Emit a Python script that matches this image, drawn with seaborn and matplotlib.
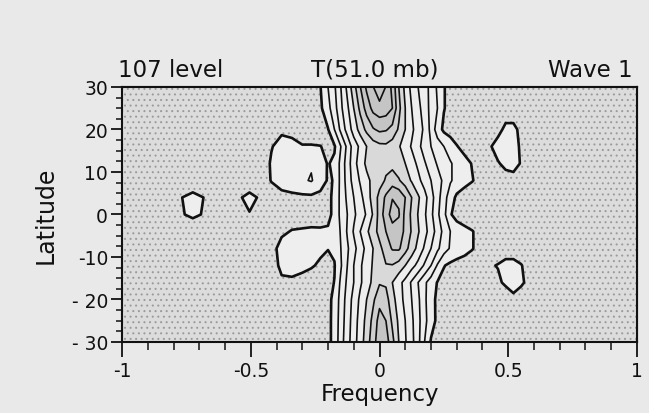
import numpy as np
import matplotlib
matplotlib.use("Agg")
import matplotlib.pyplot as plt
import seaborn as sns

# ---------------- data ----------------
freq = [-1.0, -0.85, -0.78, -0.725, -0.67, -0.6, -0.54, -0.505, -0.47, -0.42,
        -0.38, -0.34, -0.3, -0.265, -0.23, -0.2, -0.175, -0.15, -0.125, -0.1,
        -0.075, -0.05, -0.025, 0.0, 0.025, 0.05, 0.075, 0.1, 0.125, 0.15,
        0.175, 0.2, 0.225, 0.25, 0.275, 0.3, 0.33, 0.36, 0.4, 0.43,
        0.46, 0.49, 0.52, 0.55, 0.6, 0.8, 1.0]

lat = [30, 25, 20, 16, 12, 8, 4, 0, -4, -8, -12, -16, -20, -25, -30]

t_p30 = [0.3]*12 + [0.35, 0.4, 0.95, 2.0, 2.85, 4.0, 5.25, 6.6, 7.95, 9.2,
                    9.95, 10.8, 9.95, 8.7, 7.0, 5.7, 4.7, 4.0, 3.4, 2.7,
                    1.85, 1.05, 0.7, 0.5, 0.4] + [0.3]*10
t_p25 = [0.3]*12 + [0.35, 0.45, 0.8, 1.7, 2.6, 3.8, 4.8, 6.0, 7.25, 8.4,
                    9.3, 9.6, 9.5, 9.0, 7.3, 6.0, 5.0, 4.3, 3.5, 2.7,
                    2.0, 1.05, 0.7, 0.5, 0.4] + [0.3]*10
t_p20 = [0.3]*9 + [0.7, 0.85, 0.8, 0.6, 0.6, 0.6, 0.95, 2.0, 3.25, 4.4,
                   5.4, 6.4, 7.25, 7.9, 8.2, 8.1, 7.7, 6.85, 6.0, 5.2,
                   4.5, 3.8, 2.7, 1.5, 0.8, 0.6, 0.5, 0.4, 0.35, 0.3,
                   0.4, 0.6, 1.3, 1.3, 0.7] + [0.3]*3
t_p16 = [0.3]*9 + [0.95, 1.3, 1.2, 1.05, 1.05, 1.02, 0.85, 0.9, 2.0, 3.25,
                   4.5, 5.2, 6.0, 6.5, 6.75, 6.8, 6.5, 6.1, 5.5, 4.9,
                   4.25, 3.6, 3.0, 2.5, 2.0, 1.5, 1.05, 0.7, 0.5, 0.4,
                   0.9, 1.5, 1.6, 1.5, 0.8, 0.35] + [0.3]*2
t_p12 = [0.3]*9 + [1.1, 1.4, 1.5, 1.6, 1.9, 1.3, 0.95, 1.15, 2.3, 3.5,
                   4.6, 5.5, 6.2, 6.55, 6.7, 6.75, 6.7, 6.4, 6.0, 5.4,
                   4.8, 4.1, 3.5, 2.9, 2.5, 2.1, 1.7, 1.3, 0.95, 0.6,
                   0.5, 0.9, 1.3, 1.5, 0.9, 0.35] + [0.3]*2
t_p08 = [0.3, 0.3, 0.3, 0.3, 0.3, 0.3, 0.3, 0.4, 0.3] + \
        [1.05, 1.4, 1.5, 1.85, 2.08, 1.5, 0.9, 1.05, 2.3, 3.4,
         4.4, 5.1, 5.75, 6.25, 6.65, 7.1, 7.5, 7.1, 6.5, 5.9,
         5.25, 4.6, 4.0, 3.4, 2.8, 2.1, 1.7, 1.35, 1.05, 0.6,
         0.4, 0.45, 0.5, 0.5, 0.4] + [0.3]*3
t_p04 = [0.3, 0.3, 0.9, 1.3, 0.9, 0.4, 0.95, 1.25, 0.95] + \
        [0.5, 0.7, 0.8, 0.8, 0.8, 0.7, 0.8, 1.2, 2.3, 3.2,
         4.0, 4.7, 5.5, 6.4, 7.3, 8.2, 8.95, 8.8, 8.0, 7.0,
         6.15, 5.35, 4.4, 3.4, 2.4, 1.5, 0.8, 0.5, 0.4] + [0.3]*9
t_000 = [0.3, 0.3, 0.85, 1.2, 0.85, 0.35, 0.7, 0.95, 0.7] + \
        [0.4, 0.5, 0.55, 0.55, 0.55, 0.5, 0.8, 1.2, 2.3, 3.0,
         3.8, 4.5, 5.1, 6.1, 7.4, 8.55, 9.4, 9.1, 7.7, 6.8,
         5.95, 5.15, 4.25, 3.2, 2.3, 1.1, 0.6, 0.4, 0.3] + [0.3]*9
t_m04 = [0.3, 0.3, 0.3, 0.3, 0.3, 0.3, 0.4, 0.5, 0.4] + \
        [0.5, 0.85, 1.05, 1.1, 1.15, 1.15, 1.1, 1.3, 2.1, 3.1,
         4.1, 5.0, 5.8, 6.6, 7.3, 8.0, 8.6, 8.5, 7.8, 6.9,
         6.1, 5.35, 4.5, 3.6, 2.7, 2.0, 1.6, 1.3, 1.05, 0.6] + [0.3]*8
t_m08 = [0.3]*9 + [0.7, 1.3, 1.5, 1.5, 1.4, 1.2, 1.02, 1.15, 2.0, 2.85,
                   3.7, 4.5, 5.3, 6.0, 6.75, 7.45, 8.1, 8.15, 7.35, 6.5,
                   5.7, 4.85, 4.0, 3.2, 2.45, 1.9, 1.5, 1.3, 1.05, 0.6,
                   0.5, 0.45, 0.5, 0.5, 0.45] + [0.3]*3
t_m12 = [0.3]*9 + [0.6, 1.2, 1.4, 1.3, 1.1, 0.85, 0.8, 0.95, 1.9, 3.0,
                   4.0, 4.85, 5.5, 6.1, 6.7, 6.95, 6.95, 6.6, 6.0, 5.35,
                   4.7, 3.85, 3.0, 1.9, 1.05, 0.8, 0.7, 0.6, 0.5, 0.5,
                   0.9, 1.05, 1.3, 1.3, 1.05, 0.4] + [0.3]*2
t_m16 = [0.3]*9 + [0.4, 0.85, 0.8, 0.6, 0.5, 0.5, 0.8, 1.02, 2.2, 3.2,
                   4.0, 4.85, 5.5, 6.25, 6.9, 6.85, 6.0, 5.3, 4.7, 3.85,
                   3.0, 2.2, 1.5, 0.95, 0.7, 0.5, 0.4, 0.3, 0.3, 0.3,
                   0.4, 0.8, 1.2, 1.5, 1.15, 0.5] + [0.3]*2
t_m20 = [0.3]*14 + [0.4, 0.75, 1.25, 2.4, 3.4, 4.35, 5.2, 6.0, 6.8, 7.7,
                    7.4, 6.35, 5.5, 4.7, 4.0, 3.2, 2.2, 1.35, 0.8, 0.6,
                    0.45] + [0.3]*7 + [0.7, 0.5] + [0.3]*3
t_m25 = [0.3]*14 + [0.4, 0.75, 1.3, 2.5, 3.5, 4.5, 5.4, 6.3, 7.3, 8.4,
                    8.0, 6.8, 5.8, 5.0, 4.2, 3.3, 2.3, 1.4, 0.8, 0.5] + [0.3]*13
t_m30 = [0.3]*14 + [0.4, 0.75, 1.3, 2.6, 3.6, 4.6, 5.5, 6.5, 7.6, 8.6,
                    8.5, 7.3, 6.0, 5.1, 4.3, 3.3, 2.0, 0.9, 0.7, 0.5] + [0.3]*13

rows = [t_p30, t_p25, t_p20, t_p16, t_p12, t_p08, t_p04, t_000,
        t_m04, t_m08, t_m12, t_m16, t_m20, t_m25, t_m30]

line_levels = [2, 3, 4, 5, 6, 7, 8, 9, 10]
outer_level = [1]
fill_levels = [-1, 1, 6, 7, 8, 20]

x_major = [-1, -0.5, 0, 0.5, 1]
x_major_labels = ["-1", "-0.5", "0", "0.5", "1"]
y_major = [-30, -20, -10, 0, 10, 20, 30]
y_major_labels = ["- 30", "- 20", "-10", "0", "10", "20", "30"]

# ---------------- drawing ----------------
sns.set_style("ticks")
plt.rcParams["font.family"] = ["DejaVu Sans"]
plt.rcParams["hatch.color"] = "#9a9a9a"
plt.rcParams["hatch.linewidth"] = 0.7

ink = "#111111"
paper = "#e9e9e9"
fig = plt.figure(figsize=(6.49, 4.14), dpi=100, facecolor=paper)
ax = fig.add_axes([0.188, 0.1715, 0.7935, 0.616])

lat_asc = np.array(lat[::-1], dtype=float)
Z = np.array(rows[::-1], dtype=float)
X, Y = np.meshgrid(np.array(freq), lat_asc)

cf = ax.contourf(X, Y, Z, levels=fill_levels,
                 colors=["#dcdcdc", "#eeeeee", "#d9d9d9", "#cfcfcf", "#c5c5c5"],
                 hatches=["...", None, None, None, None])
cf.set_edgecolor("#9a9a9a")
cf.set_linewidth(0)
ax.contour(X, Y, Z, levels=line_levels, colors=ink, linewidths=1.2)
ax.contour(X, Y, Z, levels=outer_level, colors=ink, linewidths=1.9)

ax.set_xlim(-1, 1)
ax.set_ylim(-30, 30)
for s in ax.spines.values():
    s.set_linewidth(1.5)
    s.set_color(ink)

ax.set_xticks(x_major)
ax.set_xticklabels(x_major_labels)
ax.set_xticks(np.arange(-1, 1.001, 0.1), minor=True)
ax.set_yticks(y_major)
ax.set_yticklabels(y_major_labels)
ax.set_yticks(np.arange(-30, 30.001, 2.5), minor=True)

ax.tick_params(axis="x", which="major", direction="out", length=11, width=1.3,
               top=False, labelsize=13.5, pad=3, colors=ink)
ax.tick_params(axis="x", which="minor", direction="out", length=6, width=1.1, top=False, colors=ink)
ax.tick_params(axis="y", which="major", direction="out", length=8, width=1.3,
               right=False, labelsize=13.5, pad=2, colors=ink)
ax.tick_params(axis="y", which="minor", direction="inout", length=8, width=1.1, right=False, colors=ink)

secx = ax.secondary_xaxis("top")
secx.set_xticks(x_major)
secx.set_xticks(np.arange(-1, 1.001, 0.1), minor=True)
secx.tick_params(which="major", direction="in", length=8, width=1.2, labeltop=False, colors=ink)
secx.tick_params(which="minor", direction="in", length=5, width=1.1, colors=ink)
secx.spines["top"].set_linewidth(1.5)

secy = ax.secondary_yaxis("right")
secy.set_yticks(y_major)
secy.set_yticks(np.arange(-30, 30.001, 2.5), minor=True)
secy.tick_params(which="major", direction="in", length=8, width=1.2, labelright=False, colors=ink)
secy.tick_params(which="minor", direction="in", length=5, width=1.1, colors=ink)
secy.spines["right"].set_linewidth(1.5)

ax.set_xlabel("Frequency", fontsize=16.5, color=ink)
ax.xaxis.set_label_coords(0.5, -0.155)
ax.set_ylabel("Latitude", fontsize=17, color=ink)
ax.yaxis.set_label_coords(-0.125, 0.5)

fig.text(0.182, 0.815, "107 level", fontsize=16.5, ha="left", va="baseline", color=ink)
fig.text(0.578, 0.815, "T(51.0 mb)", fontsize=16.5, ha="center", va="baseline", color=ink)
fig.text(0.974, 0.815, "Wave 1", fontsize=16.5, ha="right", va="baseline", color=ink)

fig.savefig("out.png", dpi=100, facecolor=paper)
